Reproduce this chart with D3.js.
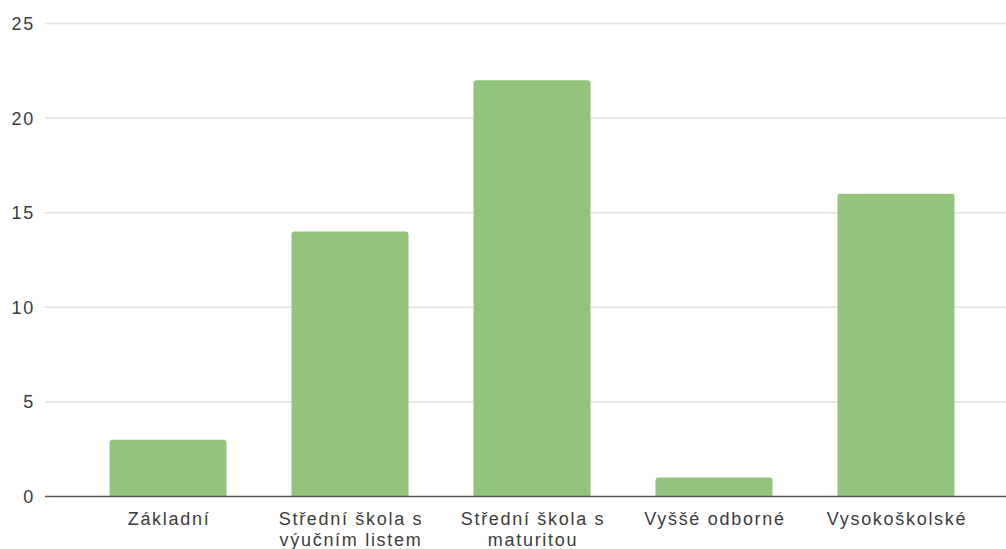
<!DOCTYPE html>
<html>
<head>
<meta charset="utf-8">
<script src="https://cdn.jsdelivr.net/npm/d3@7"></script>
<style>
  html, body { margin: 0; padding: 0; background: #fff; }
  text { font-family: "Liberation Sans", Arial, sans-serif; font-size: 18px; letter-spacing: 1.7px; fill: #3c3c3c; }
</style>
</head>
<body>
<div id="chart"></div>
<script>
const categories = [
    ["Základní"],
    ["Střední škola s", "výučním listem"],
    ["Střední škola s", "maturitou"],
    ["Vyššé odborné"],
    ["Vysokoškolské"]
];
const values = [3, 14, 22, 1, 16];
const yTicks = [0, 5, 10, 15, 20, 25];

const width = 1006, height = 549;

const svg = d3.select("#chart")
    .append("svg")
    .attr("width", width)
    .attr("height", height);

const keys = categories.map(c => c.join(" "));

const x = d3.scaleBand()
    .domain(keys)
    .range([45, 1019])
    .paddingInner(0.357)
    .paddingOuter(0.3545);

const y = d3.scaleLinear()
    .domain([0, 25])
    .range([496.5, 23.5]);

// gridlines
svg.append("g")
    .selectAll("line")
    .data(yTicks.filter(d => d !== 0))
    .enter().append("line")
    .attr("x1", 45)
    .attr("x2", width)
    .attr("y1", d => y(d))
    .attr("y2", d => y(d))
    .attr("stroke", "#e3e3e3")
    .attr("stroke-width", 1.6);

// y labels
svg.append("g")
    .selectAll("text")
    .data(yTicks)
    .enter().append("text")
    .attr("x", 35)
    .attr("y", d => y(d))
    .attr("dy", "0.36em")
    .attr("text-anchor", "end")
    .text(d => d);

// bars with rounded top
const r = 3;
svg.append("g")
    .selectAll("path")
    .data(values)
    .enter().append("path")
    .attr("fill", "#93c47d")
    .attr("d", (d, i) => {
        const x0 = x(keys[i]), w = x.bandwidth();
        const yt = y(d), yb = y(0);
        return `M${x0},${yb} V${yt + r} Q${x0},${yt} ${x0 + r},${yt} H${x0 + w - r} Q${x0 + w},${yt} ${x0 + w},${yt + r} V${yb} Z`;
    });

// baseline
svg.append("line")
    .attr("x1", 45)
    .attr("x2", width)
    .attr("y1", y(0))
    .attr("y2", y(0))
    .attr("stroke", "#555")
    .attr("stroke-width", 1.4);

// x labels
const xl = svg.append("g")
    .selectAll("text")
    .data(categories)
    .enter().append("text")
    .attr("text-anchor", "middle")
    .attr("x", (d, i) => x(keys[i]) + x.bandwidth() / 2 + 1)
    .attr("y", 525);

xl.selectAll("tspan")
    .data(d => d)
    .enter().append("tspan")
    .attr("x", function() { return d3.select(this.parentNode).attr("x"); })
    .attr("dy", (d, i) => i === 0 ? 0 : 21)
    .text(d => d);
</script>
</body>
</html>
